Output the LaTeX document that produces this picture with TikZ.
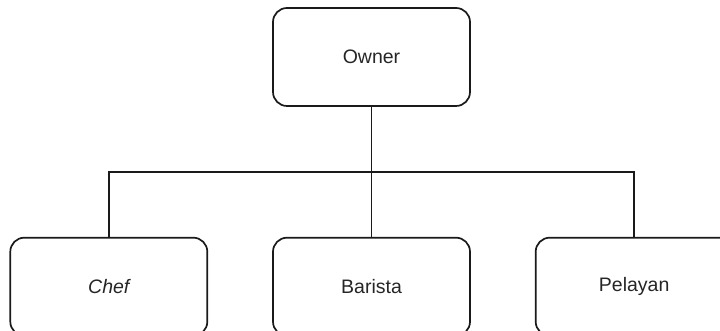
\documentclass[tikz,border=0pt]{standalone}
\usepackage{fontspec}
\setmainfont{Liberation Sans}
\usetikzlibrary{positioning, calc}
\definecolor{LineBlack}{HTML}{1A1A1A}
\definecolor{TextGray}{HTML}{262626}

\begin{document}
\begin{tikzpicture}[
  node distance=130pt and 64pt,
  role/.style={rectangle, rounded corners=14pt, draw=LineBlack, line width=1.7pt,
               fill=white, minimum width=197pt, minimum height=98pt,
               inner sep=0pt, text centered, text=TextGray,
               font=\fontsize{19.5}{23}\selectfont},
  link/.style={draw=LineBlack, line width=1.7pt},
]
\useasboundingbox (0,0) rectangle (720pt,331pt);
\clip (0,0) rectangle (720pt,331pt);

\node[role] (owner) at (371.5pt,274pt) {Owner};

\node[role, below=of owner] (barista) {Barista};
\node[role, left=of barista] (chef) {\itshape Chef};
\node[role, right=of barista] (pelayan) {Pelayan};

\coordinate (bar) at ($(owner.south)!0.5!(barista.north)$);

\draw[link] (owner.south) -- (barista.north);
\draw[link] (chef.north) |- (bar) -| (pelayan.north);

\end{tikzpicture}
\end{document}
